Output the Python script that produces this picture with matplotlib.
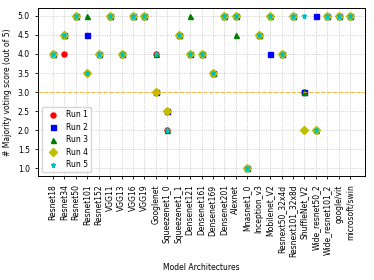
import matplotlib
matplotlib.use("Agg")
import matplotlib.pyplot as plt
import numpy as np

models = ["Resnet18", "Resnet34", "Resnet50", "Resnet101", "Resnet152",
          "VGG11", "VGG13", "VGG16", "VGG19", "Googlenet",
          "Squeezenet1_0", "Squeezenet1_1", "Densenet121", "Densenet161",
          "Densenet169", "Densenet201", "Alexnet", "Mnasnet1_0",
          "Inception_v3", "Mobilenet_V2", "Resnext50_32x4d",
          "Resnext101_32x8d", "ShuffleNet_V2", "Wide_resnet50_2",
          "Wide_resnet101_2", "google/vit", "microsoft/swin"]

run1 = [4.0, 4.0, 5.0, 3.5, 4.0, 5.0, 4.0, 5.0, 5.0, 4.0, 2.0, 4.5, 4.0, 4.0,
        3.5, 5.0, 5.0, 1.0, 4.5, 5.0, 4.0, 5.0, 3.0, 2.0, 5.0, 5.0, 5.0]
run2 = [4.0, 4.5, 5.0, 4.5, 4.0, 5.0, 4.0, 5.0, 5.0, 3.0, 2.5, 4.5, 4.0, 4.0,
        3.5, 5.0, 5.0, 1.0, 4.5, 4.0, 4.0, 5.0, 3.0, 5.0, 5.0, 5.0, 5.0]
run3 = [4.0, 4.5, 5.0, 5.0, 4.0, 5.0, 4.0, 5.0, 5.0, 4.0, 2.0, 4.5, 5.0, 4.0,
        3.5, 5.0, 4.5, 1.0, 4.5, 5.0, 4.0, 5.0, 3.0, 2.0, 5.0, 5.0, 5.0]
run4 = [4.0, 4.5, 5.0, 3.5, 4.0, 5.0, 4.0, 5.0, 5.0, 3.0, 2.5, 4.5, 4.0, 4.0,
        3.5, 5.0, 5.0, 1.0, 4.5, 5.0, 4.0, 5.0, 2.0, 2.0, 5.0, 5.0, 5.0]
run5 = [4.0, 4.5, 5.0, 3.5, 4.0, 5.0, 4.0, 5.0, 5.0, 4.0, 2.0, 4.5, 4.0, 4.0,
        3.5, 5.0, 5.0, 1.0, 4.5, 5.0, 4.0, 5.0, 5.0, 2.0, 5.0, 5.0, 5.0]

runs = [run1, run2, run3, run4, run5]
styles = ["ro", "bs", "g^", "yD", "c*"]
labels = ["Run 1", "Run 2", "Run 3", "Run 4", "Run 5"]

x = np.arange(len(models))

fig, ax = plt.subplots(figsize=(3.74, 2.8), dpi=100)
for vals, st, lab in zip(runs, styles, labels):
    ax.plot(x, vals, st, label=lab, markersize=3.6)

ax.axhline(3.0, color="orange", linestyle="--", linewidth=0.8, alpha=0.7)
ax.grid(True, linestyle=":", color="gray", alpha=0.5, linewidth=0.6)

ax.set_xticks(x)
ax.set_xticklabels(models, rotation=90, fontsize=5.5)
ax.set_yticks(np.arange(1.0, 5.01, 0.5))
ax.tick_params(axis="y", labelsize=5.5)
ax.tick_params(length=2.5, width=0.6)
ax.set_ylabel("# Majority voting score (out of 5)", fontsize=5.5)
ax.set_xlabel("Model Architectures", fontsize=5.5)
ax.legend(loc="lower left", fontsize=5.5, labelspacing=0.45)
for s in ax.spines.values():
    s.set_linewidth(0.7)

fig.subplots_adjust(left=0.102, right=0.976, top=0.971, bottom=0.371)
fig.savefig("out.png", dpi=100)
